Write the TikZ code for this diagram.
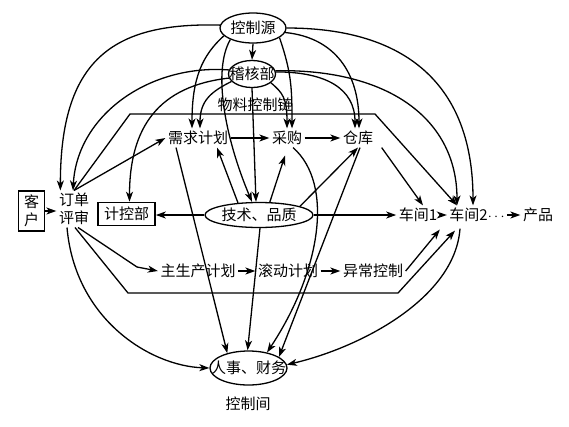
\documentclass[tikz,border=0pt]{standalone}
\usepackage{fontspec}
\setmainfont{Noto Sans CJK SC}
\usetikzlibrary{arrows.meta,shapes.geometric}
\begin{document}
\begin{tikzpicture}[x=1pt,y=-1pt,line width=1.3pt,
  >={Stealth[length=10pt,width=7pt,inset=2.8pt]},
  every node/.style={font=\fontsize{15}{18}\selectfont,inner sep=2pt},
  ell/.style={draw,ellipse,inner sep=0pt},
  boxed/.style={draw,rectangle,line width=1.6pt},
  conn/.style={->}]
\useasboundingbox (0,0) rectangle (569,426);

% nodes
\node[ell,minimum width=66pt,minimum height=30pt] (ks) at (253,28) {控制源};
\node[ell,minimum width=47pt,minimum height=27pt] (jh) at (252,74) {\makebox[0pt]{稽核部}};
\node (wl) at (255,105) {物料控制链};
\node (xq) at (198,138) {需求计划};
\node (cg) at (287,138) {采购};
\node (ck) at (358,138) {仓库};
\node[boxed,minimum width=26pt,minimum height=40pt,inner sep=0pt,align=center] (kh) at (31.5,211) {客\\户};
\node[align=center] (dd) at (74,209) {订单\\评审};
\node[boxed,minimum width=57pt,minimum height=23pt,inner sep=0pt] (jk) at (126.5,214) {计控部};
\node[ell,minimum width=108pt,minimum height=25pt] (js) at (259,215) {技术、品质};
\node (cj1) at (418,215) {车间1};
\node (cj2) at (477,215) {车间2$\cdots$};
\node (cp) at (538,215) {产品};
\node (zsc) at (198,271) {主生产计划};
\node (gd) at (288,271) {滚动计划};
\node (yc) at (373,271) {异常控制};
\node[ell,minimum width=77pt,minimum height=34pt] (rs) at (248.5,368) {\makebox[0pt]{人事、财务}};
\node (kzj) at (248,404) {控制间};

% bend points
\coordinate (p1) at (130,114);
\coordinate (p2) at (375,114);
\coordinate (q1) at (128,293);
\coordinate (q2) at (398,293);
\coordinate (b1) at (137,267);

% control arcs from 控制源 and 稽核部
\draw[conn] (ks.175) .. controls +(-108,-3) and +(0,-130) .. ([xshift=4pt]dd.north west);
\draw[conn] (jh.170) .. controls +(-80,-6) and +(4,-75) .. ([xshift=-1pt]dd.north);
\draw[conn] (jh.190) .. controls +(-70,8) and +(0,-75) .. ([xshift=3pt]jk.north);
\draw[conn] (ks.195) .. controls +(-22,20) and +(0,-50) .. ([xshift=-6pt]xq.north);
\draw[conn] (jh.200) .. controls +(-20,10) and +(0,-28) .. ([xshift=2pt]xq.north);
\draw[conn] (ks.south) -- (jh.north);
\draw[conn] (ks.-20) .. controls +(12,35) and +(0,-40) .. ([xshift=5pt]cg.north);
\draw[conn] (jh.-25) .. controls +(12,10) and +(0,-30) .. (cg.north);
\draw[conn] (ks.-8) .. controls +(50,5) and +(0,-55) .. ([xshift=1pt]ck.north);
\draw[conn] (jh.5) .. controls +(50,0) and +(0,-40) .. ([xshift=-3pt]ck.north);
\draw[conn] (ks.0) .. controls +(120,0) and +(0,-120) .. ([xshift=-4pt]cj2.north);
\draw[conn] (jh.8) .. controls +(115,-2) and +(0,-85) .. ([xshift=-20pt]cj2.north);
\draw[conn] (ks.207) .. controls +(-18,31) and +(-27,-64) .. ([xshift=-7pt]js.north);
\draw[conn] (jh.south) -- ([xshift=-3pt]js.north);

% material chain
\draw[conn] (xq.east) -- (cg.west);
\draw[conn] (cg.east) -- (ck.west);
\draw[conn] ([xshift=6pt]ck.south east) -- ([xshift=5pt]cj1.north);
\draw[conn] (dd.north) -- (xq.west);
\draw[conn] (dd.north) -- (p1) -- (p2) -- ([xshift=-20pt]cj2.north);

% technology / quality
\draw[conn] (js.150) -- ([xshift=19pt]xq.south);
\draw[conn] (js.50) -- ([xshift=-2pt,yshift=-8pt]cg.south);
\draw[conn] (js.12) -- (ck.south);
\draw[conn] (js.west) -- (js.west -| jk.east);
\draw[conn] (js.east) -- (cj1.west);

% production chain
\draw[conn] ([xshift=1pt]dd.south) -- (q1) -- (q2) -- ([xshift=-22pt,yshift=-6pt]cj2.south);
\draw[conn] ([xshift=4pt]dd.south) -- (b1) -- (zsc.west);
\draw[conn] (zsc.east) -- (gd.west);
\draw[conn] (gd.east) -- (yc.west);
\draw[conn] (yc.east) -- ([yshift=-5pt]cj1.south east);
\draw[conn] (kh.east) -- (kh.east -| dd.west);
\draw[conn] (cj1.east) -- (cj2.west);
\draw[conn] (cj2.east) -- (cp.west);

% to personnel / finance
\draw[conn] ([xshift=-22pt]xq.south) -- (rs.145);
\draw[conn] ([xshift=1pt]js.south) -- (rs.93);
\draw[conn] ([xshift=6pt]cg.south) .. controls +(42,37) and +(53,-80) .. (rs.40);
\draw[conn] ([xshift=2pt]ck.south) -- (rs.20);
\draw[conn] ([xshift=-7pt]dd.south) .. controls +(8,92) and +(-59,-2) .. (rs.180);
\draw[conn] ([xshift=-17pt,yshift=-4pt]cj2.south) .. controls +(-5,70) and +(73,-17) .. (rs.5);
\end{tikzpicture}
\end{document}
